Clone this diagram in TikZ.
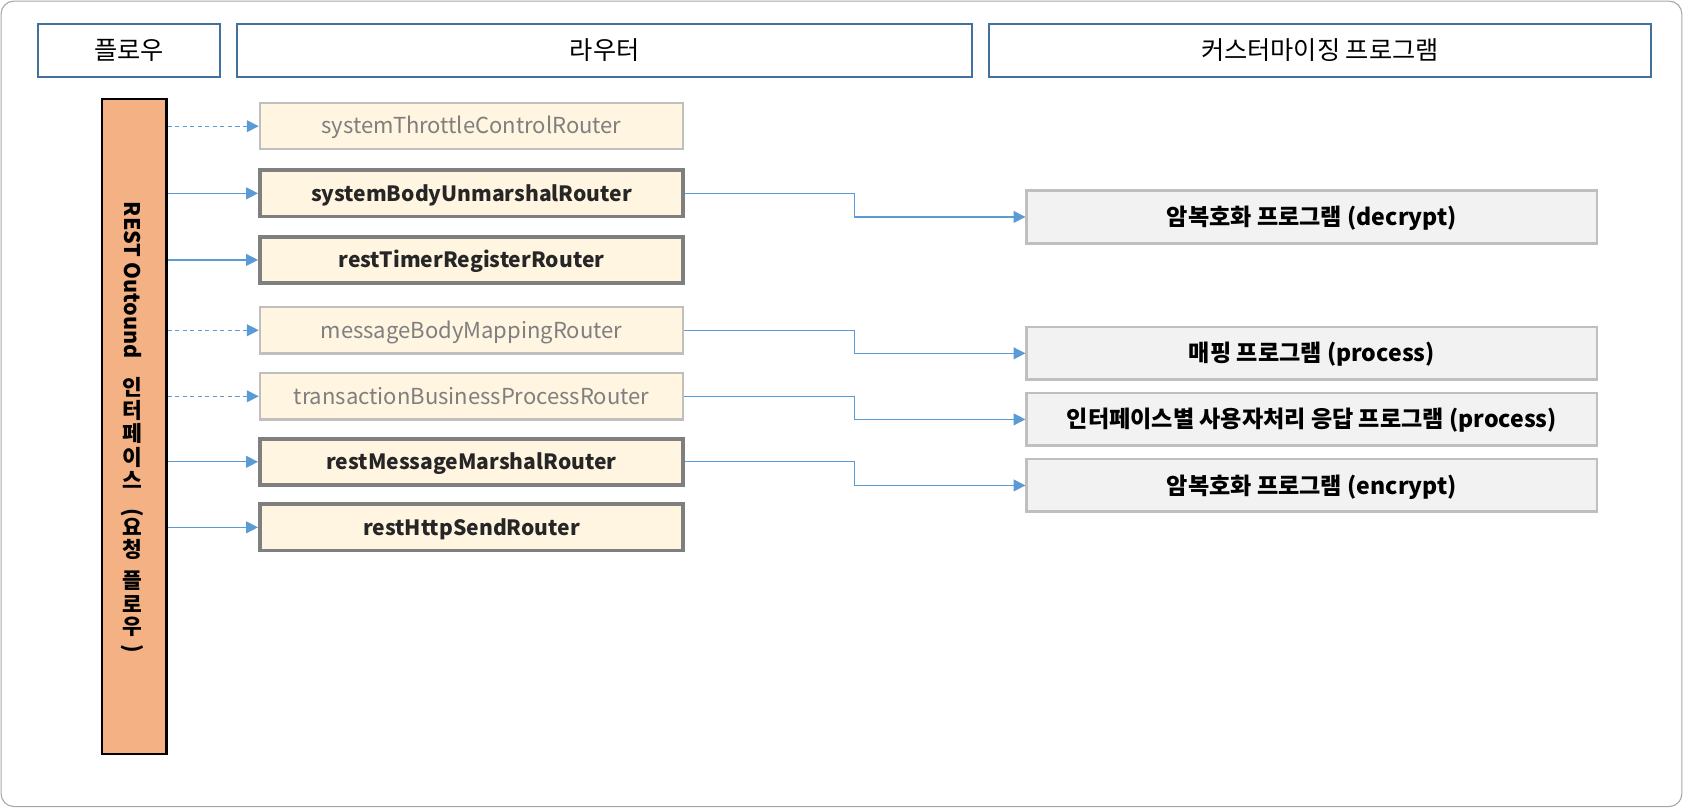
\documentclass[tikz,border=0pt]{standalone}
\usepackage{fontspec}
\setmainfont{Noto Sans CJK KR}
\usetikzlibrary{arrows.meta}
\definecolor{hdrblue}{HTML}{41719C}
\definecolor{barfill}{HTML}{F4B183}
\definecolor{rfill}{HTML}{FFF5E0}
\definecolor{thickgray}{HTML}{7F7F7F}
\definecolor{lightgray}{HTML}{BFBFBF}
\definecolor{pfill}{HTML}{F2F2F2}
\definecolor{arrblue}{HTML}{5B9BD5}
\definecolor{darktext}{HTML}{262626}
\definecolor{outer}{HTML}{A6A6A6}
\tikzset{
  hdr/.style={draw=hdrblue, line width=2pt, minimum height=50pt, inner sep=0pt, font=\fontsize{23.5}{26}\selectfont},
  rbold/.style={draw=thickgray, fill=rfill, line width=3.5pt, minimum width=394pt, minimum height=43pt, inner sep=0pt, text height=15.5pt, text depth=1pt, text=darktext, font=\bfseries\fontsize{19.6}{22}\selectfont},
  rlight/.style={draw=lightgray, fill=rfill, line width=2.2pt, minimum width=394pt, minimum height=43pt, inner sep=0pt, text height=15.5pt, text depth=1pt, text=thickgray, font=\fontsize{20.5}{23}\selectfont},
  prog/.style={draw=lightgray, fill=pfill, line width=2.4pt, minimum width=531pt, minimum height=49pt, inner sep=0pt, text height=17pt, text depth=1pt, font=\bfseries\fontsize{21.5}{24}\selectfont},
  arr/.style={draw=arrblue, line width=1.1pt, -{Triangle[length=11pt,width=11pt]}},
  darr/.style={arr, dash pattern=on 4pt off 3pt},
  vch/.style={inner sep=0pt, font=\bfseries\fontsize{20}{22}\selectfont},
}
\begin{document}
\begin{tikzpicture}[x=1pt,y=-1pt]
\useasboundingbox (0,0) rectangle (1568,753);
\draw[outer, line width=1pt, rounded corners=12pt] (1,1) rectangle (1566,751);
% headers
\node[hdr, minimum width=170pt] (h1) at (120,47) {플로우};
\node[hdr, minimum width=684pt] (h2) at (563,47) {라우터};
\node[hdr, minimum width=616pt] (h3) at (1229,47) {커스터마이징 프로그램};
% bar
\node[draw=black, fill=barfill, line width=2pt, minimum width=60pt, minimum height=610pt, inner sep=0pt] (bar) at (125,397) {};
\node[vch, rotate=-90] (barlat) at (123.5,261) {REST Outound};
\foreach \c/\y [count=\i] in {인/361,터/382.5,페/404,이/425.5,스/447,요/491,청/512,플/541,로/562.5,우/584}
  \node[vch] (bk\i) at (123.5,\y) {\c};
\node[vch, rotate=-90] (bpl) at (123.5,477) {(};
\node[vch, rotate=-90] (bpr) at (123.5,604) {)};
% routers
\node[rlight] (r1) at (439,117.5) {systemThrottleControlRouter};
\node[rbold]  (r2) at (439,180) {systemBodyUnmarshalRouter};
\node[rbold]  (r3) at (439,242) {restTimerRegisterRouter};
\node[rlight] (r4) at (439,307.5) {messageBodyMappingRouter};
\node[rlight] (r5) at (439,369) {transactionBusinessProcessRouter};
\node[rbold]  (r6) at (439,430) {restMessageMarshalRouter};
\node[rbold]  (r7) at (439,491) {restHttpSendRouter};
% programs
\node[prog] (p1) at (1221.5,202) {암복호화 프로그램 (decrypt)};
\node[prog] (p2) at (1221.5,329) {매핑 프로그램 (process)};
\node[prog] (p3) at (1221.5,390.5) {인터페이스별 사용자처리 응답 프로그램 (process)};
\node[prog] (p4) at (1221.5,452) {암복호화 프로그램 (encrypt)};
% bar -> routers
\draw[darr] (bar.east |- r1) -- (r1.west);
\draw[arr]  (bar.east |- r2) -- (r2.west);
\draw[arr]  (bar.east |- r3) -- (r3.west);
\draw[darr] (bar.east |- r4) -- (r4.west);
\draw[darr] (bar.east |- r5) -- (r5.west);
\draw[arr]  (bar.east |- r6) -- (r6.west);
\draw[arr]  (bar.east |- r7) -- (r7.west);
% routers -> programs
\coordinate (mx) at (796,0);
\draw[arr] (r2.east) -- (mx |- r2) |- (p1.west);
\draw[arr] (r4.east) -- (mx |- r4) |- (p2.west);
\draw[arr] (r5.east) -- (mx |- r5) |- (p3.west);
\draw[arr] (r6.east) -- (mx |- r6) |- (p4.west);
\end{tikzpicture}
\end{document}
